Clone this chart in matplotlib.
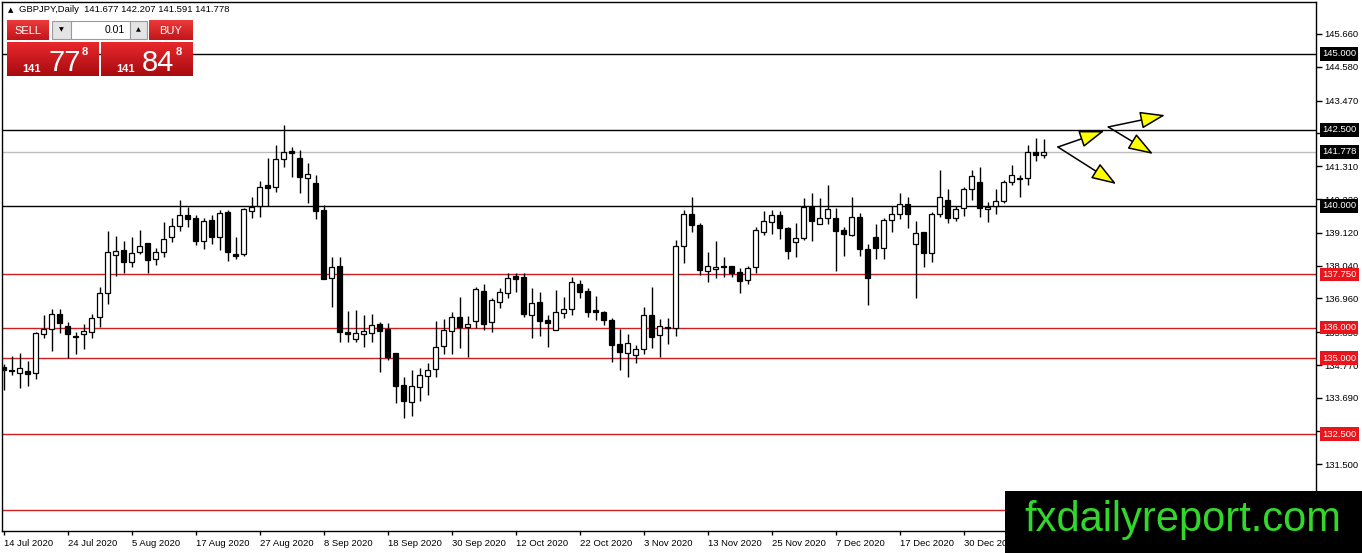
import matplotlib.pyplot as plt
import matplotlib.transforms as mtransforms
import numpy as np
from matplotlib.colors import LinearSegmentedColormap
from matplotlib.patches import Rectangle
from matplotlib.ticker import FormatStrFormatter

plt.rcParams['font.family'] = ['Liberation Sans', 'DejaVu Sans']

# GBPJPY daily candles, 14 Jul 2020 .. 14 Jan 2021
opens = np.array([
    134.70, 134.59, 134.52, 134.57, 134.50, 135.78, 135.94, 136.44, 136.05, 135.72,
    135.78, 135.87, 136.34, 137.13, 138.38, 138.54, 138.15, 138.50, 138.78, 138.25,
    138.48, 138.98, 139.33, 139.70, 139.60, 138.85, 139.53, 138.98, 139.79, 138.41,
    138.41, 139.85, 140.01, 140.69, 140.64, 141.54, 141.81, 141.57, 140.91, 140.75,
    139.87, 137.62, 138.03, 135.87, 135.63, 135.78, 135.81, 136.11, 135.94, 135.15,
    134.10, 133.56, 134.06, 134.42, 134.63, 135.39, 135.88, 136.34, 136.03, 136.23,
    137.20, 136.17, 136.85, 137.13, 137.70, 137.65, 136.41, 136.83, 136.24, 135.91,
    136.47, 136.61, 137.44, 137.20, 136.57, 136.50, 136.25, 135.46, 135.17, 135.09,
    135.29, 136.40, 135.75, 136.01, 136.00, 138.68, 139.74, 139.38, 137.87, 137.93,
    138.03, 138.04, 137.82, 137.57, 137.98, 139.15, 139.48, 139.70, 139.27, 138.81,
    138.94, 139.98, 139.40, 139.60, 139.60, 139.20, 139.05, 139.65, 138.58, 138.99,
    138.61, 139.54, 139.73, 140.06, 138.74, 139.13, 138.44, 139.73, 140.20, 139.60,
    139.93, 140.55, 140.78, 139.89, 140.00, 140.17, 140.78, 140.91, 140.91, 141.79,
    141.677])
highs = np.array([
    134.80, 135.08, 135.15, 134.90, 135.87, 136.41, 136.61, 136.61, 136.17, 135.85,
    136.11, 136.44, 137.35, 139.18, 139.01, 138.85, 138.98, 139.21, 138.78, 138.62,
    139.47, 139.61, 140.20, 139.98, 139.70, 139.60, 139.70, 139.87, 139.87, 138.98,
    139.94, 140.31, 140.83, 141.59, 142.01, 142.66, 141.93, 141.84, 141.40, 141.02,
    140.03, 138.33, 138.33, 136.56, 136.58, 136.41, 136.45, 136.19, 136.14, 135.15,
    134.39, 134.61, 134.66, 134.83, 136.22, 136.27, 136.52, 137.00, 136.38, 137.33,
    137.43, 136.96, 137.31, 137.81, 137.81, 137.79, 137.29, 137.16, 136.41, 137.24,
    137.00, 137.65, 137.57, 137.29, 137.04, 136.56, 136.31, 135.94, 135.79, 135.43,
    136.67, 137.35, 136.28, 136.33, 138.88, 139.87, 140.31, 139.43, 138.48, 138.85,
    138.33, 138.04, 137.95, 138.03, 139.30, 139.85, 139.87, 139.85, 139.32, 139.43,
    140.25, 140.44, 140.25, 140.68, 139.92, 139.32, 140.29, 139.78, 138.75, 139.40,
    139.60, 140.00, 140.44, 140.29, 139.51, 139.13, 139.79, 141.18, 140.56, 140.00,
    140.64, 141.18, 141.27, 140.14, 140.56, 140.86, 141.35, 141.02, 142.01, 142.23,
    142.207])
lows = np.array([
    133.95, 134.44, 134.02, 134.09, 134.31, 135.67, 135.23, 135.81, 134.99, 135.12,
    135.31, 135.65, 136.03, 136.77, 137.71, 137.79, 138.00, 138.41, 137.81, 138.06,
    138.33, 138.83, 139.19, 139.30, 138.72, 138.58, 138.76, 138.55, 138.20, 138.25,
    138.37, 139.60, 139.65, 140.01, 140.47, 141.29, 140.96, 140.44, 140.09, 139.56,
    137.59, 136.69, 135.54, 135.54, 135.54, 135.35, 135.54, 134.55, 134.93, 133.53,
    133.02, 133.10, 133.60, 133.79, 134.37, 135.12, 135.13, 135.34, 135.02, 136.00,
    135.92, 135.87, 136.65, 136.98, 137.18, 136.36, 135.65, 135.73, 135.37, 135.91,
    136.31, 136.41, 136.96, 136.34, 136.25, 136.09, 134.86, 134.61, 134.39, 134.85,
    135.14, 135.34, 135.02, 135.45, 135.73, 138.13, 139.15, 137.73, 137.51, 137.64,
    137.67, 137.65, 137.15, 137.42, 137.81, 139.05, 139.08, 138.91, 138.25, 138.33,
    138.88, 138.86, 139.40, 139.41, 137.86, 138.37, 139.00, 138.37, 136.74, 138.25,
    138.25, 139.14, 139.56, 139.29, 136.96, 137.98, 138.17, 139.65, 139.43, 139.51,
    139.68, 140.20, 139.65, 139.48, 139.74, 140.09, 140.69, 140.31, 140.69, 141.49,
    141.591])
closes = np.array([
    134.61, 134.57, 134.66, 134.48, 135.81, 135.95, 136.44, 136.14, 135.78, 135.68,
    135.88, 136.33, 137.13, 138.48, 138.51, 138.17, 138.44, 138.67, 138.21, 138.49,
    138.90, 139.33, 139.70, 139.56, 138.86, 139.52, 138.98, 139.76, 138.48, 138.37,
    139.89, 139.96, 140.62, 140.60, 141.54, 141.77, 141.73, 140.96, 141.04, 139.85,
    137.59, 138.00, 135.87, 135.80, 135.81, 135.89, 136.08, 135.88, 135.04, 134.09,
    133.60, 134.08, 134.43, 134.60, 135.37, 135.92, 136.34, 136.03, 136.11, 137.26,
    136.11, 136.90, 137.16, 137.62, 137.59, 136.44, 136.82, 136.23, 136.14, 136.50,
    136.61, 137.49, 137.18, 136.52, 136.50, 136.24, 135.44, 135.21, 135.48, 135.29,
    136.40, 135.70, 136.05, 135.99, 138.68, 139.74, 139.36, 137.89, 138.03, 138.00,
    137.98, 137.81, 137.54, 137.95, 139.21, 139.51, 139.70, 139.27, 138.53, 138.94,
    139.96, 139.52, 139.60, 139.89, 139.19, 139.07, 139.63, 138.58, 137.62, 138.61,
    139.54, 139.73, 140.06, 139.73, 139.10, 138.44, 139.73, 140.29, 139.60, 139.89,
    140.55, 141.00, 139.94, 139.98, 140.17, 140.80, 141.02, 140.88, 141.77, 141.68,
    141.778])

date_pos = [0, 8, 16, 24, 32, 40, 48, 56, 64, 72, 80, 88, 96, 104, 112, 120]
date_labels = ['14 Jul 2020', '24 Jul 2020', '5 Aug 2020', '17 Aug 2020', '27 Aug 2020',
               '8 Sep 2020', '18 Sep 2020', '30 Sep 2020', '12 Oct 2020', '22 Oct 2020',
               '3 Nov 2020', '13 Nov 2020', '25 Nov 2020', '7 Dec 2020', '17 Dec 2020',
               '30 Dec 2020']
price_ticks = [145.66, 144.58, 143.47, 142.39, 141.31, 140.22, 139.12, 138.04,
               136.96, 135.85, 134.77, 133.69, 132.61, 131.50]

black_levels = [145.0, 142.5, 140.0]
red_levels = [137.75, 136.0, 135.0, 132.5, 130.0]
bid = closes[-1]

# scenario arrows: (start index, start price, end index, end price)
arrows = [(131.8, 141.94, 137.6, 142.47),
          (131.8, 141.94, 139.1, 140.72),
          (138.1, 142.60, 145.2, 142.99),
          (138.1, 142.60, 143.7, 141.71)]

W, H = 1362, 553
fig = plt.figure(figsize=(W / 100, H / 100), dpi=100)
fig.patch.set_facecolor('white')
ax = fig.add_axes([2 / W, 1 - 531 / H, 1314 / W, 529 / H])

x = np.arange(len(opens))
up = closes >= opens
ax.vlines(x, lows, highs, color='black', lw=1, zorder=2)
ax.bar(x, np.abs(closes - opens), bottom=np.minimum(opens, closes), width=0.62,
       color=np.where(up, 'white', 'black'), edgecolor='black', linewidth=0.9, zorder=3)

for lv in black_levels:
    ax.axhline(lv, color='black', lw=1, zorder=1)
for lv in red_levels:
    ax.axhline(lv, color='#cc1f1f', lw=1, zorder=1)
ax.axhline(bid, color='#bdbdbd', lw=1, zorder=1)

ax.set_xlim(-0.19, 164.06)
ax.set_ylim(129.31, 146.71)
for s in ax.spines.values():
    s.set_color('black')
    s.set_linewidth(1)

ax.yaxis.tick_right()
ax.set_yticks(price_ticks)
ax.yaxis.set_major_formatter(FormatStrFormatter('%.3f'))
ax.tick_params(axis='y', direction='out', length=4, width=1, pad=2, labelsize=6.8)
ax.set_xticks(date_pos)
ax.set_xticklabels(date_labels, ha='left')
ax.tick_params(axis='x', direction='out', length=3, width=1, pad=3, labelsize=6.8)

trans = mtransforms.blended_transform_factory(ax.transAxes, ax.transData)
for lv, fc in [(v, 'black') for v in black_levels] + [(bid, 'black')] + \
        [(v, '#e8151c') for v in red_levels]:
    ax.text(1 + 6 / 1314, lv, f'{lv:.3f}', transform=trans, ha='left', va='center',
            fontsize=6.8, color='white', clip_on=False, zorder=6,
            bbox=dict(boxstyle='square,pad=0.25', fc=fc, ec='none'))

for x0, y0, x1, y1 in arrows:
    ax.annotate('', xy=(x1, y1), xytext=(x0, y0),
                arrowprops=dict(arrowstyle='-|>,head_length=1.3,head_width=0.45',
                                fc='#ffff00', ec='black', lw=1.1, mutation_scale=12,
                                shrinkA=0, shrinkB=0), zorder=7)

ax.text(6 / 1314, 1 - 8 / 529, '\u25b2', transform=ax.transAxes, fontsize=5,
        family='DejaVu Sans', va='center', ha='left')
ax.text(17 / 1314, 1 - 8 / 529,
        'GBPJPY,Daily  ' + ' '.join(f'{v:.3f}' for v in (opens[-1], highs[-1], lows[-1], closes[-1])),
        transform=ax.transAxes, fontsize=6.8, va='center', ha='left')

# overlay in pixel coordinates for the trade panel and the watermark
ov = fig.add_axes([0, 0, 1, 1], zorder=5)
ov.patch.set_visible(False)


def grad_box(x0, y0, x1, y1, top, bottom):
    cm = LinearSegmentedColormap.from_list('g', [top, bottom])
    ov.imshow(np.linspace(0, 1, 64).reshape(-1, 1), extent=(x0, x1, y1, y0),
              cmap=cm, aspect='auto', interpolation='bilinear', origin='upper')


grad_box(7, 20, 49, 40, '#ea3a3a', '#c3151a')
grad_box(149, 20, 193, 40, '#ea3a3a', '#c3151a')
grad_box(7, 42, 99, 76, '#e8282c', '#a80b10')
grad_box(101, 42, 193, 76, '#e8282c', '#a80b10')
ov.add_patch(Rectangle((52, 21), 19, 18, fc='#e4e4e4', ec='#9a9a9a', lw=0.8))
ov.add_patch(Rectangle((71, 21), 59, 18, fc='white', ec='#9a9a9a', lw=0.8))
ov.add_patch(Rectangle((130, 21), 17, 18, fc='#e4e4e4', ec='#9a9a9a', lw=0.8))
ov.text(61.5, 30, '\u25bc', fontsize=4.5, family='DejaVu Sans', ha='center', va='center')
ov.text(138.5, 30, '\u25b2', fontsize=4.5, family='DejaVu Sans', ha='center', va='center')
ov.text(125, 30, '0.01', fontsize=7.5, ha='right', va='center')
ov.text(28, 30.5, 'SELL', fontsize=8, color='white', ha='center', va='center')
ov.text(171, 30.5, 'BUY', fontsize=8, color='white', ha='center', va='center')
for bx, big in [(7, '77'), (101, '84')]:
    ov.text(bx + 15, 72, '141', fontsize=8, weight='bold', color='white', va='baseline')
    ov.text(bx + 41, 71, big, fontsize=21, color='white', va='baseline')
    ov.text(bx + 75, 47, '8', fontsize=8, weight='bold', color='white', va='top')

ov.add_patch(Rectangle((1005, 491), 357, 62, fc='black', ec='none'))
ov.text(1183, 520, 'fxdailyreport.com', fontsize=30, color='#33d62a',
        ha='center', va='center')

ov.set_xlim(0, W)
ov.set_ylim(H, 0)
ov.axis('off')

fig.savefig('out.png', dpi=100)
